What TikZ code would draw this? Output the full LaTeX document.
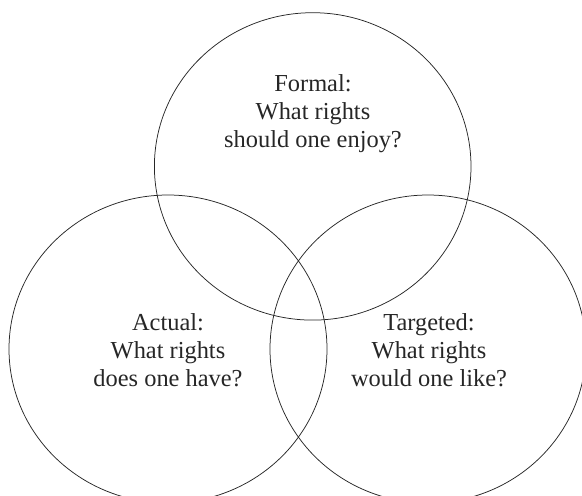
\documentclass[tikz,border=0pt]{standalone}
\usepackage{fontspec}
\setmainfont{Liberation Serif}
\begin{document}
\begin{tikzpicture}[x=1pt,y=-1pt]
\tikzset{
  setring/.style={draw=black!85, line width=0.75pt},
  lbl/.style={align=center, anchor=base, inner sep=0pt, text=black!85,
    font=\fontsize{24.4}{27.7}\selectfont}
}
\useasboundingbox (0,0) rectangle (582,496);
\begin{scope}
\clip (0,0) rectangle (582,496);
\draw[setring] (312.7,166.4) ellipse [x radius=158.3, y radius=153.7];
\draw[setring] (168,349) ellipse [x radius=159, y radius=154];
\draw[setring] (428,349) ellipse [x radius=158, y radius=154];
\end{scope}
\node[lbl] (formal) at (313,147) {Formal:\\What rights\\should one enjoy?};
\node[lbl] (actual) at (168,386) {Actual:\\What rights\\does one have?};
\node[lbl] (target) at (429,386) {Targeted:\\What rights\\would one like?};
\end{tikzpicture}
\end{document}
